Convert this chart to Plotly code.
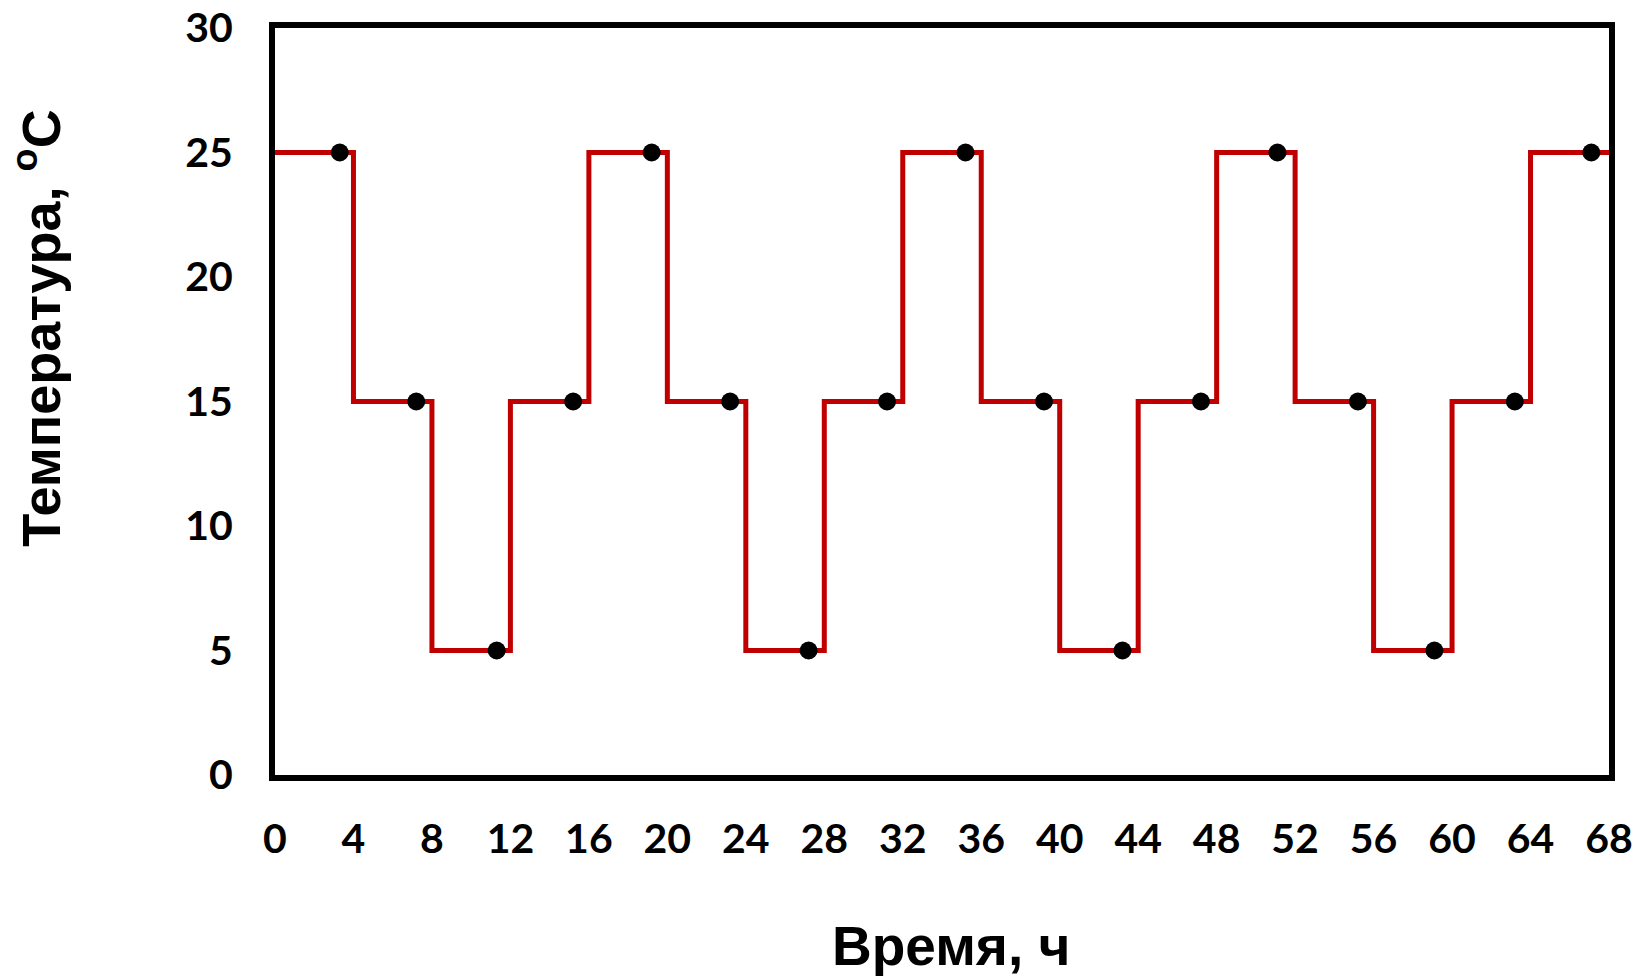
import plotly.graph_objects as go

# Step profile: temperature levels for each 4-hour interval
step_x = [0, 4, 8, 12, 16, 20, 24, 28, 32, 36, 40, 44, 48, 52, 56, 60, 64, 68]
step_y = [25, 15, 5, 15, 25, 15, 5, 15, 25, 15, 5, 15, 25, 15, 5, 15, 25, 25]

# Measured points
pt_x = [3.3, 7.2, 11.3, 15.2, 19.2, 23.2, 27.2, 31.2, 35.2, 39.2, 43.2, 47.2, 51.1, 55.2, 59.1, 63.2, 67.1]
pt_y = [25, 15, 5, 15, 25, 15, 5, 15, 25, 15, 5, 15, 25, 15, 5, 15, 25]

x_ticks = list(range(0, 69, 4))
y_ticks = [0, 5, 10, 15, 20, 25, 30]

fig = go.Figure()
fig.add_trace(go.Scatter(x=step_x, y=step_y, mode="lines", line_shape="hv",
                         line=dict(color="#C00000", width=5), showlegend=False,
                         cliponaxis=False))
fig.add_trace(go.Scatter(x=pt_x, y=pt_y, mode="markers",
                         marker=dict(color="black", size=18), showlegend=False,
                         cliponaxis=False))

tickfont = dict(family="Lato", size=41, color="black", weight="bold")
fig.update_layout(
    width=1642, height=976,
    margin=dict(l=275, r=33, t=28, b=201),
    paper_bgcolor="white", plot_bgcolor="white",
    xaxis=dict(range=[0, 68], tickvals=x_ticks, ticktext=[str(v) for v in x_ticks],
               showgrid=False, zeroline=False, showline=True, linecolor="black",
               linewidth=6, mirror=True, ticks="outside", ticklen=23,
               tickcolor="rgba(0,0,0,0)", tickfont=tickfont, automargin=False),
    yaxis=dict(range=[0, 30], tickvals=y_ticks, ticktext=[str(v) for v in y_ticks],
               showgrid=False, zeroline=False, showline=True, linecolor="black",
               linewidth=6, mirror=True, ticks="outside", ticklen=28,
               tickcolor="rgba(0,0,0,0)", tickfont=tickfont, automargin=False),
    annotations=[
        dict(text="Время, ч", xref="paper", yref="paper", x=0.507, y=-0.229,
             xanchor="center", yanchor="middle", showarrow=False,
             font=dict(family="Liberation Sans", size=55, color="black", weight="bold")),
        dict(text="Температура, <sup>o</sup>C", xref="paper", yref="paper",
             x=-0.178, y=0.598, xanchor="center", yanchor="middle", showarrow=False,
             textangle=-90,
             font=dict(family="Liberation Sans", size=54, color="black", weight="bold")),
    ],
)

fig.write_html("out.html")
